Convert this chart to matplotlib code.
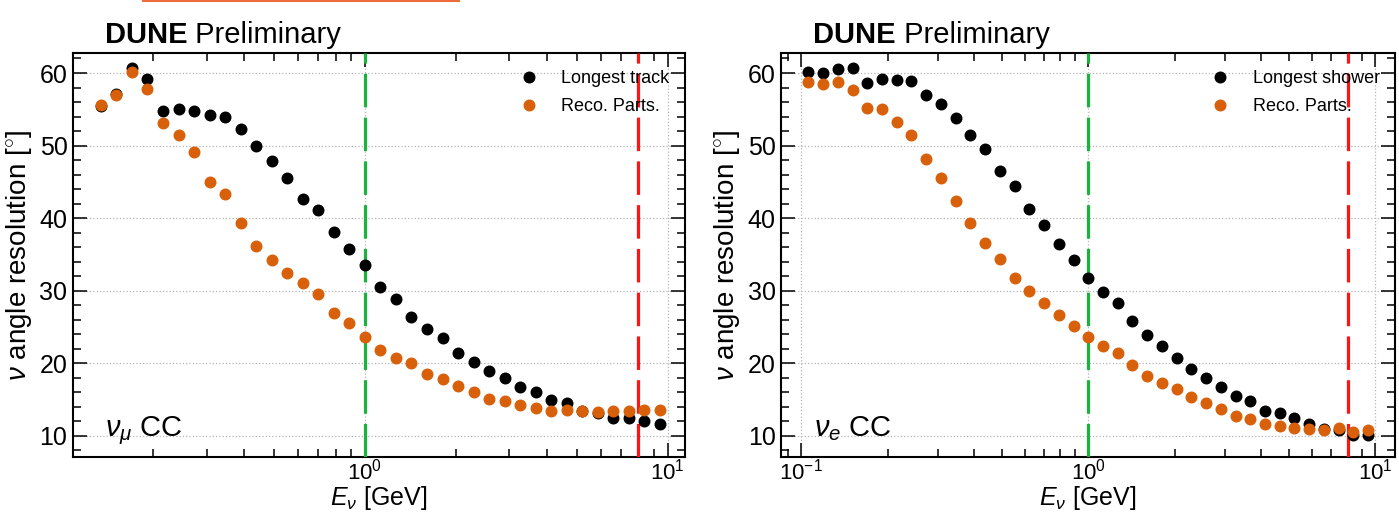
import matplotlib
matplotlib.use("Agg")
import matplotlib.pyplot as plt
from matplotlib.patches import Rectangle
from matplotlib.ticker import MultipleLocator, LogLocator

plt.rcParams['font.family'] = ['Liberation Sans', 'DejaVu Sans']
plt.rcParams['mathtext.fontset'] = 'custom'
plt.rcParams['mathtext.rm'] = 'Liberation Sans'
plt.rcParams['mathtext.it'] = 'Liberation Sans:italic'
plt.rcParams['mathtext.bf'] = 'Liberation Sans:bold'

# bin centres in neutrino energy [GeV] (log bins 0.1 - 10)
e_nu = [0.1061, 0.1194, 0.1343, 0.1511, 0.1701, 0.1914, 0.2154, 0.2424, 0.2728, 0.3070,
        0.3455, 0.3888, 0.4375, 0.4924, 0.5541, 0.6235, 0.7017, 0.7897, 0.8886, 1.0000,
        1.1253, 1.2664, 1.4251, 1.6037, 1.8047, 2.0309, 2.2855, 2.5720, 2.8943, 3.2571,
        3.6654, 4.1248, 4.6416, 5.2233, 5.8780, 6.6147, 7.4438, 8.3768, 9.4267]

# numu CC (first two bins empty)
numu_track = [55.5, 57.1, 60.7, 59.2, 54.8, 55.1, 54.7, 54.2, 53.9, 52.3,
              49.9, 47.9, 45.5, 42.6, 41.1, 38.1, 35.7, 33.5, 30.5, 28.8,
              26.4, 24.7, 23.5, 21.4, 20.2, 19.0, 18.0, 16.7, 16.0, 14.9,
              14.5, 13.4, 13.1, 12.5, 12.5, 12.0, 11.7]
numu_reco = [55.6, 57.0, 60.2, 57.8, 53.1, 51.5, 49.1, 45.0, 43.4, 39.4,
             36.2, 34.2, 32.5, 31.1, 29.5, 26.9, 25.5, 23.7, 21.9, 20.8,
             20.0, 18.5, 17.8, 16.9, 16.1, 15.1, 14.8, 14.2, 13.8, 13.5,
             13.6, 13.4, 13.3, 13.4, 13.5, 13.6, 13.6]

# nue CC
nue_shower = [60.1, 60.0, 60.6, 60.7, 58.6, 59.2, 59.1, 58.9, 57.0, 55.7,
              53.8, 51.5, 49.6, 46.5, 44.4, 41.2, 39.1, 36.5, 34.3, 31.8,
              29.9, 28.3, 25.8, 23.9, 22.4, 20.8, 19.2, 18.0, 16.8, 15.5,
              14.8, 13.5, 13.2, 12.5, 11.6, 10.9, 10.8, 10.2, 10.1]
nue_reco = [58.7, 58.5, 58.7, 57.6, 55.2, 55.1, 53.2, 51.4, 48.2, 45.5,
            42.3, 39.3, 36.6, 34.4, 31.7, 30.0, 28.3, 26.6, 25.2, 23.6,
            22.4, 21.4, 19.8, 18.3, 17.3, 16.5, 15.3, 14.5, 13.7, 12.8,
            12.3, 11.7, 11.4, 11.1, 11.0, 10.8, 11.1, 10.6, 10.8]

fig = plt.figure(figsize=(13.99, 5.12), dpi=100)
ax1 = fig.add_axes([0.0522, 0.1074, 0.4374, 0.789])
ax2 = fig.add_axes([0.5583, 0.1074, 0.4389, 0.789])

orange = '#d9600a'
panels = [
    (ax1, e_nu[2:], numu_track, numu_reco, 'Longest track', r'$\nu_\mu$ CC', (0.1087, 11.4)),
    (ax2, e_nu, nue_shower, nue_reco, 'Longest shower', r'$\nu_e$ CC', (0.0852, 11.7)),
]

for ax, x, blk, org, lab, chan, xl in panels:
    ax.plot(x, blk, 'o', color='black', ms=7.6, label=lab, zorder=4)
    ax.plot(x, org, 'o', color=orange, ms=7.6, label='Reco. Parts.', zorder=4)
    ax.axvline(1.0, color='#1bb33c', lw=2.3, dashes=(10.5, 3.2), zorder=3)
    ax.axvline(8.0, color='#ff1414', lw=2.3, dashes=(10.5, 3.2), zorder=3)
    ax.set_xscale('log')
    ax.set_xlim(*xl)
    ax.set_ylim(7.1, 62.75)
    ax.yaxis.set_major_locator(MultipleLocator(10))
    ax.yaxis.set_minor_locator(MultipleLocator(2))
    ax.xaxis.set_major_locator(LogLocator(base=10))
    ax.grid(True, which='major', color='#b5b5b5', ls=':', lw=0.9)
    ax.tick_params(which='both', direction='in', top=True, right=True, width=1.1)
    ax.tick_params(which='major', length=10)
    ax.tick_params(which='minor', length=5.5)
    ax.tick_params(axis='y', labelsize=18, pad=4)
    ax.tick_params(axis='x', labelsize=16, pad=1)
    for s in ax.spines.values():
        s.set_linewidth(1.5)
    ax.set_xlabel(r'$E_\nu$ [GeV]', fontsize=18, labelpad=0)
    ax.set_ylabel(r'$\nu$ angle resolution [$^{\circ}$]', fontsize=20, labelpad=4)
    ax.text(0.053, 0.052, chan, transform=ax.transAxes, fontsize=21, va='baseline')
    ax.legend(loc='upper right', bbox_to_anchor=(0.975, 0.958), frameon=False,
              fontsize=13, handlelength=1.0, handletextpad=1.3, labelspacing=0.6,
              borderpad=0, borderaxespad=0, markerscale=1.0)
    t1 = ax.text(0.052, 1.025, 'DUNE', transform=ax.transAxes, fontsize=21,
                 fontweight='bold', va='baseline')
    ax.annotate(' Preliminary', xy=(1, 0), xycoords=t1, fontsize=21, va='bottom')

# cut-off strip at the top of the slide
fig.add_artist(Rectangle((142 / 1399, 1 - 2 / 512), 318 / 1399, 2 / 512,
                         transform=fig.transFigure, color='#ee6b3c', lw=0))

fig.savefig('out.png', dpi=100)
